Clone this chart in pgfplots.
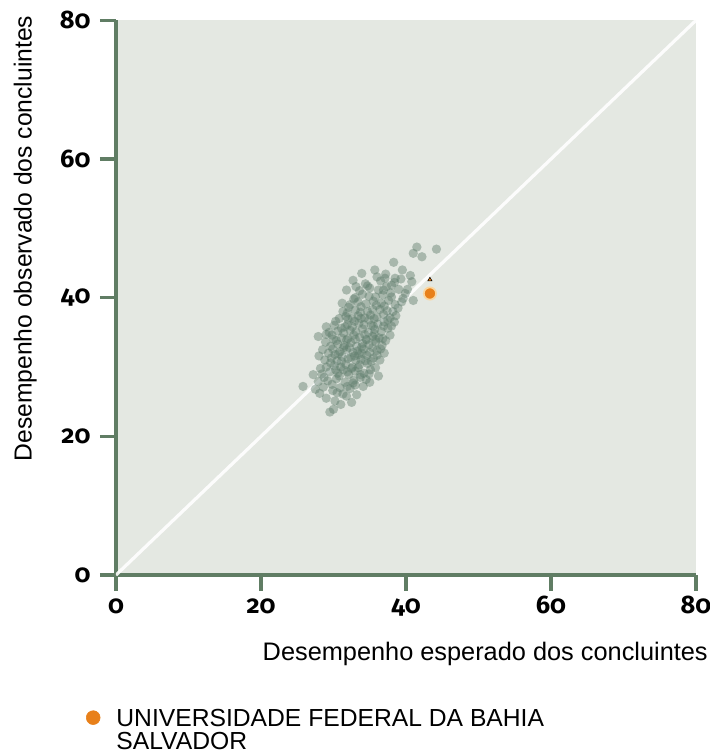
\documentclass[border=0pt]{standalone}
\usepackage{pgfplots}
\pgfplotsset{compat=1.18}
\usepackage{pgfplotstable}
\usepackage{fontspec}
\setmainfont{Liberation Sans}
\newfontfamily\tickfont{Fira Sans}[Numbers=OldStyle]
\definecolor{bgcol}{RGB}{228,232,226}
\definecolor{axcol}{RGB}{96,125,100}
\definecolor{ptcol}{RGB}{95,125,108}
\definecolor{orcol}{RGB}{232,128,26}
\definecolor{ringcol}{RGB}{250,214,160}

\pgfplotstableread{
x y
29.5 23.5
28.1 26.2
30.2 25.1
31.0 24.6
29.0 25.5
31.8 25.8
32.5 24.9
30.5 26.3
33.2 26.0
27.5 26.8
25.8 27.2
28.6 27.1
29.8 27.5
30.9 27.0
31.6 27.8
32.3 26.9
33.0 27.4
34.1 27.2
29.2 28.0
27.9 27.9
30.4 28.3
32.8 28.1
33.7 28.5
35.0 27.8
28.4 29.0
29.5 29.3
30.6 29.1
31.4 29.6
32.1 28.9
33.0 29.4
34.2 29.1
35.1 29.6
29.0 30.0
30.1 30.2
31.7 30.4
32.6 30.0
33.6 30.3
34.7 30.5
35.8 29.9
28.2 29.8
36.2 28.7
28.8 31.0
29.7 31.3
30.5 30.9
31.2 31.5
32.0 31.2
32.9 31.6
33.8 31.1
34.6 31.7
35.5 31.3
36.4 31.0
29.3 32.0
30.9 32.2
31.8 32.5
33.3 32.3
34.2 32.6
35.0 32.1
36.0 32.4
28.0 31.6
37.0 32.0
30.2 31.8
29.6 33.0
30.6 33.3
31.5 33.1
32.4 33.5
33.2 33.0
34.0 33.4
34.9 33.2
35.8 33.6
36.7 33.1
30.0 34.0
31.1 34.2
32.0 34.1
33.6 34.3
34.5 34.0
35.4 34.4
36.3 34.2
37.2 33.8
27.9 34.4
28.9 33.6
32.8 34.6
29.4 35.0
30.6 35.2
31.4 34.9
32.3 35.3
33.1 35.1
34.0 35.5
34.8 35.0
35.7 35.4
36.6 35.1
37.5 35.6
30.1 36.0
31.9 36.1
33.5 36.3
35.2 36.0
36.1 36.2
37.0 36.5
38.0 35.9
29.0 35.8
30.8 37.0
31.7 37.3
32.6 37.0
33.4 37.4
34.3 37.1
35.1 37.5
36.0 37.2
36.9 37.6
37.8 37.1
38.6 37.4
31.3 38.0
33.0 38.2
34.7 38.0
36.4 38.3
37.4 38.1
38.9 38.5
32.1 38.6
31.2 39.2
32.3 39.0
33.4 39.4
34.5 39.1
35.5 39.5
36.6 39.2
37.6 39.6
38.5 39.0
39.4 39.4
33.0 40.0
34.9 40.2
36.8 40.4
39.9 40.6
41.0 39.6
38.0 40.1
31.8 41.1
33.6 41.0
35.0 41.4
36.2 41.1
37.3 41.6
39.0 41.2
34.4 42.0
32.7 42.5
36.5 42.4
38.4 42.2
40.8 42.3
40.6 43.2
35.7 44.0
37.2 43.4
38.3 45.1
41.0 46.4
41.5 47.3
42.2 45.9
44.2 47.0
39.5 44.0
33.9 43.5
38.5 42.8
37.1 42.8
32.2 32.8
33.9 32.0
31.0 30.0
34.4 30.9
32.9 36.6
34.9 36.8
31.6 35.8
33.7 28.9
30.3 29.6
35.6 34.8
32.5 29.8
31.9 27.2
33.8 38.7
35.9 38.9
30.7 31.9
34.6 33.9
33.1 31.0
36.8 34.1
29.9 26.6
31.3 26.1
32.7 27.7
34.5 28.2
30.8 28.7
31.9 29.3
33.4 29.9
34.9 29.0
29.6 30.6
31.1 30.8
32.4 31.4
33.5 31.8
35.2 30.8
36.0 31.7
29.9 32.6
31.4 32.8
32.7 32.1
33.9 32.9
35.4 32.8
36.5 32.6
30.4 33.8
31.8 33.9
33.0 34.0
34.3 34.7
35.8 34.0
37.8 34.6
29.8 34.6
31.1 35.6
32.6 35.8
34.2 36.1
35.5 35.9
36.9 35.9
30.3 36.6
32.0 36.9
33.8 37.0
35.6 37.0
37.5 36.8
38.4 36.5
31.9 37.8
33.7 37.9
35.4 38.3
37.0 38.8
38.2 38.0
32.8 39.8
34.0 40.5
35.8 40.1
37.9 40.7
39.6 39.9
34.7 41.7
36.9 41.1
38.0 41.8
33.1 41.6
36.0 43.0
39.3 42.7
40.2 41.2
28.7 28.5
27.2 28.9
28.5 32.5
29.0 34.7
30.0 23.9
}\scatterdata

\begin{document}
\begin{tikzpicture}
\begin{axis}[
  scale only axis,
  width=435pt, height=416pt,
  xmin=0, xmax=80, ymin=0, ymax=80,
  xtick={0,20,40,60,80}, ytick={0,20,40,60,80},
  axis x line=bottom, axis y line=left,
  axis line style={-, draw=axcol, line width=2.8pt},
  x axis line style={-, draw=axcol, line width=2.8pt},
  y axis line style={-, draw=axcol, line width=2.8pt},
  axis background/.style={fill=bgcol},
  tick align=outside,
  major tick length=12pt,
  tick style={draw=axcol, line width=2.6pt},
  xticklabel={\tickfont\bfseries\pgfmathprintnumber[assume math mode=true]{\tick}},
  yticklabel={\tickfont\bfseries\pgfmathprintnumber[assume math mode=true]{\tick}},
  tick label style={font=\tickfont\bfseries\fontsize{19}{19}\selectfont, inner sep=0pt},
  xticklabel style={text height=9.5pt, text depth=0pt, yshift=-7.5pt},
  yticklabel style={xshift=-7pt},
  label style={font=\fontsize{18.5}{22}\selectfont, inner sep=0pt},
  xlabel={Desempenho esperado dos concluintes},
  ylabel={Desempenho observado dos concluintes},
  xlabel style={font=\fontsize{19}{22}\selectfont, at={(axis description cs:1.0207,-0.1207)}, anchor=north east},
  ylabel style={at={(axis description cs:-0.136,1.009)}, anchor=south east},
  legend style={draw=none, fill=none, inner sep=0pt, outer sep=0pt,
    at={(axis description cs:-0.0517,-0.2365)}, anchor=north west,
    font=\fontsize{18.5}{16}\selectfont,
    cells={anchor=base west, inner sep=0pt, text height=13.1pt, text depth=1.9pt},
    row sep=-1.5pt,
    /tikz/column 1/.style={column sep=10pt}},
  clip=true,
]
\addplot[only marks, mark=*, mark size=3.5pt, draw=none, fill=ptcol,
  mark options={draw=none, fill=ptcol, fill opacity=0.45, draw opacity=0}, forget plot]
  table[x=x,y=y] {\scatterdata};
\addplot[white, line width=2.4pt, opacity=0.9, forget plot] coordinates {(0,0) (80,80)};
\addplot[only marks, mark=*, mark size=4.6pt, mark options={draw=ringcol, line width=1.3pt, fill=orcol}, forget plot] coordinates {(43.3,40.6)};
\addplot[only marks, mark=triangle*, mark size=1.8pt, mark options={draw=none, fill=orcol}, forget plot] coordinates {(43.3,42.6)};
\addlegendimage{legend image code/.code={\fill[orcol] (0pt,6.5pt) circle (5.2pt);}}
\addlegendentry{UNIVERSIDADE FEDERAL DA BAHIA}
\addlegendimage{empty legend}
\addlegendentry{SALVADOR}
\end{axis}
\pgfresetboundingbox
\path[use as bounding box] ([xshift=-87pt,yshift=-132pt]current axis.south west) rectangle ++(532.5pt,563.25pt);
\end{tikzpicture}
\end{document}
